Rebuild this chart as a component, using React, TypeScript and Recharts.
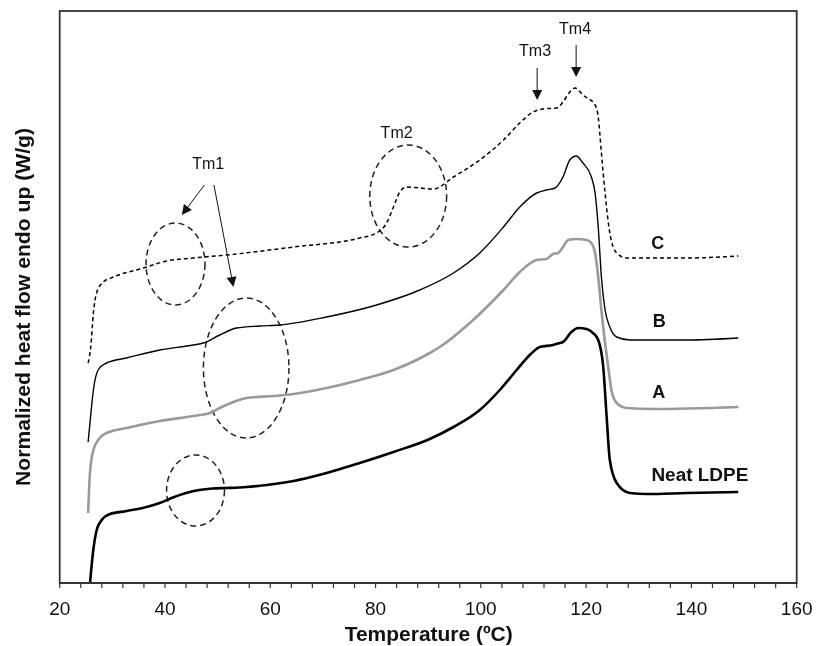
import React from 'react';
import { LineChart, Line, XAxis, YAxis, ReferenceArea, ReferenceLine, ReferenceDot } from 'recharts';

// Temperature (°C) and normalized heat flow (arbitrary units) for each curve
const neatT = [25.76, 26.38, 27.03, 27.98, 29.55, 32.73, 36.5, 39.0, 41.5, 44.0, 46.5, 49.0, 51.7, 55.5, 59.3, 64.4, 70.7, 77.0, 83.4, 90.3, 94.8, 99.8, 103.6, 106.8, 109.3, 111.2, 113.7, 115.0, 115.6, 117.2, 118.5, 120.1, 121.3, 122.3, 123.25, 123.9, 124.5, 125.8, 128.3, 131.5, 139.1, 148.9];
const neatV = [0.0, 0.33, 0.53, 0.63, 0.69, 0.72, 0.76, 0.8, 0.855, 0.9, 0.93, 0.945, 0.95, 0.96, 0.98, 1.02, 1.1, 1.2, 1.31, 1.44, 1.56, 1.73, 1.93, 2.13, 2.28, 2.36, 2.38, 2.4, 2.41, 2.51, 2.55, 2.54, 2.5, 2.43, 2.16, 1.66, 1.23, 1.0, 0.9, 0.89, 0.9, 0.91];

const aT = [25.4, 25.75, 26.4, 27.3, 28.9, 32.7, 39.05, 45.4, 48.5, 50.4, 53.0, 55.5, 60.6, 64.4, 70.7, 77.0, 83.4, 90.3, 92.2, 97.9, 104.3, 107.4, 110.6, 112.5, 113.7, 114.7, 115.6, 116.6, 118.2, 120.1, 121.0, 121.7, 122.3, 122.9, 123.6, 124.2, 124.8, 125.8, 127.7, 132.7, 148.9];
const aV = [0.7, 1.1, 1.33, 1.43, 1.5, 1.55, 1.62, 1.67, 1.7, 1.75, 1.81, 1.85, 1.87, 1.89, 1.95, 2.03, 2.13, 2.3, 2.36, 2.6, 2.93, 3.11, 3.23, 3.24, 3.29, 3.3, 3.36, 3.43, 3.44, 3.43, 3.4, 3.3, 3.06, 2.73, 2.4, 2.16, 1.93, 1.8, 1.75, 1.74, 1.76];

const bT = [25.4, 25.75, 26.4, 27.3, 28.9, 32.7, 39.05, 45.4, 47.3, 50.4, 53.6, 58.0, 61.8, 70.7, 80.2, 88.4, 94.8, 99.8, 104.3, 107.4, 110.6, 112.5, 114.1, 115.6, 116.9, 118.1, 119.4, 121.0, 121.7, 122.3, 122.9, 123.6, 124.5, 125.8, 128.3, 139.1, 148.9];
const bV = [1.41, 1.6, 1.93, 2.13, 2.2, 2.25, 2.33, 2.38, 2.4, 2.48, 2.55, 2.57, 2.58, 2.66, 2.78, 2.93, 3.1, 3.3, 3.56, 3.76, 3.9, 3.93, 3.95, 4.06, 4.23, 4.27, 4.2, 4.06, 3.9, 3.56, 3.06, 2.73, 2.56, 2.46, 2.43, 2.43, 2.45];

const cT = [25.4, 25.9, 26.4, 27.0, 28.3, 30.2, 35.9, 40.3, 45.4, 51.7, 64.4, 77.0, 80.2, 82.1, 83.4, 84.6, 85.9, 88.4, 91.0, 94.8, 99.8, 104.3, 107.4, 109.9, 111.8, 114.4, 115.6, 116.9, 117.9, 119.4, 121.7, 122.3, 122.9, 123.6, 124.5, 125.8, 127.7, 139.1, 148.9];
const cV = [2.2, 2.36, 2.7, 2.9, 3.01, 3.06, 3.15, 3.22, 3.25, 3.28, 3.36, 3.45, 3.5, 3.6, 3.76, 3.91, 3.96, 3.95, 3.94, 4.06, 4.23, 4.43, 4.6, 4.71, 4.74, 4.75, 4.81, 4.91, 4.95, 4.88, 4.78, 4.66, 4.3, 3.9, 3.5, 3.3, 3.25, 3.25, 3.27];

const xTicks = [20, 24, 28, 32, 36, 40, 44, 48, 52, 56, 60, 64, 68, 72, 76, 80, 84, 88, 92, 96, 100, 104, 108, 112, 116, 120, 124, 128, 132, 136, 140, 144, 148, 152, 156, 160];
const xLabelStep = 20;

const curveLabels = ['C', 'B', 'A', 'Neat LDPE'];
const peakLabels = ['Tm1', 'Tm2', 'Tm3', 'Tm4'];
const xTitle = 'Temperature (ºC)';
const yTitle = 'Normalized heat flow endo up (W/g)';

const toData = (t: number[], v: number[]) => t.map((x, i) => ({ t: x, v: v[i] }));
const neatData = toData(neatT, neatV);
const aData = toData(aT, aV);
const bData = toData(bT, bV);
const cData = toData(cT, cV);

const FONT = 'Liberation Sans, Arial, sans-serif';
const INK = '#111';

const ellipseShape = (p: any) => (
  <ellipse
    cx={p.x + p.width / 2}
    cy={p.y + p.height / 2}
    rx={Math.abs(p.width / 2)}
    ry={Math.abs(p.height / 2)}
    fill="none"
    stroke="#222"
    strokeWidth={1.5}
    strokeDasharray="6 4"
  />
);

const frameShape = (p: any) => (
  <rect x={p.x} y={p.y} width={p.width} height={p.height} fill="none" stroke="#333" strokeWidth={1.8} />
);

const arrowShape = (p: any) => {
  const { x1, y1, x2, y2 } = p;
  const dx = x2 - x1;
  const dy = y2 - y1;
  const len = Math.hypot(dx, dy) || 1;
  const ux = dx / len;
  const uy = dy / len;
  const hl = 10;
  const hw = 5;
  const bx = x2 - ux * hl;
  const by = y2 - uy * hl;
  const pts = `${x2},${y2} ${bx - uy * hw},${by + ux * hw} ${bx + uy * hw},${by - ux * hw}`;
  return (
    <g>
      <line x1={x1} y1={y1} x2={bx} y2={by} stroke={INK} strokeWidth={1} />
      <polygon points={pts} fill={INK} />
    </g>
  );
};

const textShape = (label: string, opts: any) => (p: any) => (
  <text
    x={p.cx}
    y={p.cy}
    textAnchor={opts.anchor || 'middle'}
    dominantBaseline="central"
    fontFamily={FONT}
    fontSize={opts.size}
    fontWeight={opts.weight || 'normal'}
    fill={INK}
    textLength={opts.length}
    lengthAdjust={opts.length ? 'spacingAndGlyphs' : undefined}
    transform={opts.rotate ? `rotate(-90, ${p.cx}, ${p.cy})` : undefined}
  >
    {label}
  </text>
);

const renderTick = (p: any) => {
  const val = p.payload.value;
  if (val % xLabelStep !== 0) return <g />;
  return (
    <text x={p.x} y={p.y} dy={27} textAnchor="middle" fontFamily={FONT} fontSize={19} fill={INK}>
      {val}
    </text>
  );
};

export default function App() {
  return (
    <div style={{ position: 'fixed', left: 0, top: 0, width: 816, height: 646 }}>
      <LineChart
        width={816}
        height={646}
        margin={{ top: 11, right: 19.3, bottom: 13, left: 59.7 }}
      >
        <XAxis
          dataKey="t"
          type="number"
          domain={[20, 160]}
          allowDataOverflow
          ticks={xTicks}
          interval={0}
          tickSize={5}
          tickMargin={0}
          height={50}
          axisLine={{ stroke: '#333', strokeWidth: 1.8 }}
          tickLine={{ stroke: '#333', strokeWidth: 1.2 }}
          tick={renderTick}
        />
        <YAxis type="number" domain={[0, 5.72]} allowDataOverflow hide />

        <ReferenceArea x1={20} x2={160} y1={0} y2={5.72} shape={frameShape} />

        {/* dashed ellipses */}
        <ReferenceArea x1={36.4} x2={47.6} y1={2.78} y2={3.6} shape={ellipseShape} />
        <ReferenceArea x1={47.3} x2={63.55} y1={1.45} y2={2.85} shape={ellipseShape} />
        <ReferenceArea x1={40.3} x2={51.3} y1={0.57} y2={1.28} shape={ellipseShape} />
        <ReferenceArea x1={78.9} x2={93.5} y1={3.36} y2={4.38} shape={ellipseShape} />

        <Line data={neatData} dataKey="v" type="monotone" dot={false} stroke="#000" strokeWidth={2.6} isAnimationActive={false} />
        <Line data={aData} dataKey="v" type="monotone" dot={false} stroke="#9a9a9a" strokeWidth={2.6} isAnimationActive={false} />
        <Line data={bData} dataKey="v" type="monotone" dot={false} stroke="#000" strokeWidth={1.4} isAnimationActive={false} />
        <Line data={cData} dataKey="v" type="monotone" dot={false} stroke="#000" strokeWidth={1.5} strokeDasharray="4 3" isAnimationActive={false} />

        {/* arrows */}
        <ReferenceLine segment={[{ x: 47.5, y: 3.98 }, { x: 43.2, y: 3.68 }]} shape={arrowShape} />
        <ReferenceLine segment={[{ x: 49.3, y: 3.98 }, { x: 53.0, y: 2.96 }]} shape={arrowShape} />
        <ReferenceLine segment={[{ x: 110.7, y: 5.15 }, { x: 110.7, y: 4.83 }]} shape={arrowShape} />
        <ReferenceLine segment={[{ x: 118.1, y: 5.38 }, { x: 118.1, y: 5.06 }]} shape={arrowShape} />

        {/* peak labels */}
        <ReferenceDot x={48.2} y={4.2} r={1} shape={textShape(peakLabels[0], { size: 16 })} />
        <ReferenceDot x={84.0} y={4.51} r={1} shape={textShape(peakLabels[1], { size: 16 })} />
        <ReferenceDot x={110.3} y={5.33} r={1} shape={textShape(peakLabels[2], { size: 16 })} />
        <ReferenceDot x={117.9} y={5.55} r={1} shape={textShape(peakLabels[3], { size: 16 })} />

        {/* curve labels */}
        <ReferenceDot x={133.6} y={3.4} r={1} shape={textShape(curveLabels[0], { size: 18, weight: 'bold' })} />
        <ReferenceDot x={133.9} y={2.62} r={1} shape={textShape(curveLabels[1], { size: 18, weight: 'bold' })} />
        <ReferenceDot x={133.8} y={1.91} r={1} shape={textShape(curveLabels[2], { size: 18, weight: 'bold' })} />
        <ReferenceDot x={132.4} y={1.08} r={1} shape={textShape(curveLabels[3], { size: 18, weight: 'bold', anchor: 'start', length: 97 })} />

        {/* axis titles */}
        <ReferenceDot x={90.1} y={-0.5} r={1} ifOverflow="visible" shape={textShape(xTitle, { size: 21, weight: 'bold', length: 168 })} />
        <ReferenceDot x={13.0} y={2.76} r={1} ifOverflow="visible" shape={textShape(yTitle, { size: 21, weight: 'bold', rotate: true, length: 358 })} />
      </LineChart>
    </div>
  );
}
